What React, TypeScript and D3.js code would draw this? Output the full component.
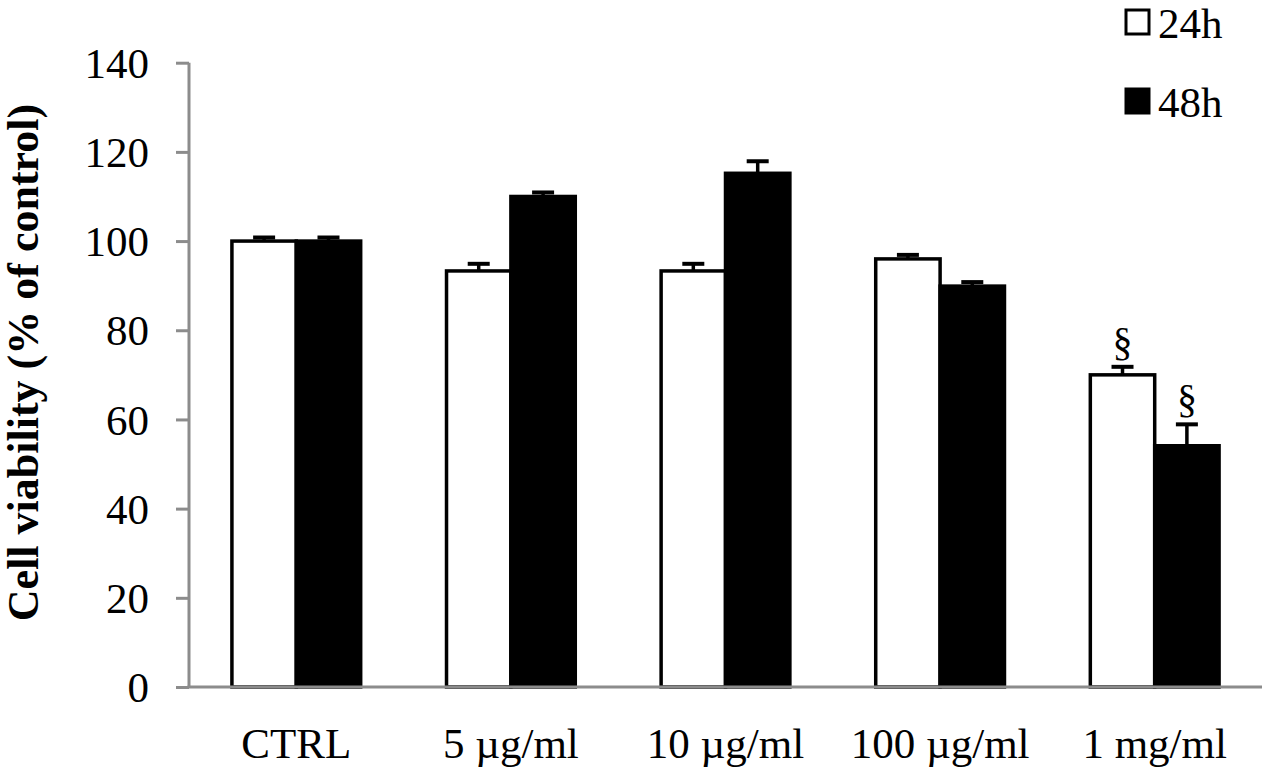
import { useEffect, useRef } from "react";
import * as d3 from "d3";

// Chart data
const categories = ["CTRL", "5 µg/ml", "10 µg/ml", "100 µg/ml", "1 mg/ml"];
const seriesNames = ["24h", "48h"];
const values24h = [100, 93.3, 93.3, 96.0, 70.0];
const errors24h = [0.8, 1.6, 1.6, 0.9, 1.8];
const values48h = [100, 110.0, 115.2, 89.9, 54.1];
const errors48h = [0.8, 0.9, 2.7, 0.9, 4.8];
const marks24h = ["", "", "", "", "§"];
const marks48h = ["", "", "", "", "§"];
const yTicks = [0, 20, 40, 60, 80, 100, 120, 140];
const yTitle = "Cell viability (% of control)";

const WIDTH = 1267;
const HEIGHT = 773;
const FONT = "'Liberation Serif', 'Times New Roman', serif";

interface Bar {
  category: string;
  series: string;
  value: number;
  error: number;
  mark: string;
}

export default function App() {
  const svgRef = useRef<SVGSVGElement>(null);

  useEffect(() => {
    if (!svgRef.current) return;
    const svg = d3.select(svgRef.current);
    svg.selectAll("*").remove();

    const bars: Bar[] = [];
    categories.forEach((c, i) => {
      bars.push({ category: c, series: seriesNames[0], value: values24h[i], error: errors24h[i], mark: marks24h[i] });
      bars.push({ category: c, series: seriesNames[1], value: values48h[i], error: errors48h[i], mark: marks48h[i] });
    });

    const plot = { left: 189, right: 1262, top: 62.7, bottom: 687 };

    const x = d3
      .scaleBand<string>()
      .domain(categories)
      .range([plot.left, plot.right])
      .paddingInner(0.4)
      .paddingOuter(0.2);

    const xSub = d3
      .scaleBand<string>()
      .domain(seriesNames)
      .range([0, x.bandwidth()]);

    const y = d3.scaleLinear().domain([0, 140]).range([plot.bottom, plot.top]);

    const fillFor = (s: string) => (s === seriesNames[0] ? "#ffffff" : "#000000");

    // Y axis
    const yAxis = svg
      .append("g")
      .attr("transform", `translate(${plot.left},0)`)
      .call(d3.axisLeft(y).tickValues(yTicks).tickSize(13).tickPadding(27).tickSizeOuter(0));
    yAxis.select(".domain").remove();
    yAxis.selectAll(".tick line").attr("stroke", "#8c8c8c").attr("stroke-width", 3);
    yAxis
      .selectAll(".tick text")
      .attr("fill", "#000")
      .attr("font-family", FONT)
      .attr("font-size", "43px")
      .attr("dy", "0.34em");

    svg
      .append("line")
      .attr("x1", plot.left)
      .attr("x2", plot.left)
      .attr("y1", y(140))
      .attr("y2", y(0))
      .attr("stroke", "#8c8c8c")
      .attr("stroke-width", 3);

    // Bars
    const g = svg.append("g");
    g.selectAll("rect.bar")
      .data(bars)
      .join("rect")
      .attr("class", "bar")
      .attr("x", (d) => (x(d.category) as number) + (xSub(d.series) as number))
      .attr("y", (d) => y(d.value))
      .attr("width", xSub.bandwidth())
      .attr("height", (d) => y(0) - y(d.value))
      .attr("fill", (d) => fillFor(d.series))
      .attr("stroke", "#000")
      .attr("stroke-width", 3.5)
      .attr("stroke-linejoin", "miter");

    // Error bars (upper only)
    const cx = (d: Bar) => (x(d.category) as number) + (xSub(d.series) as number) + xSub.bandwidth() / 2;
    g.selectAll("line.err")
      .data(bars)
      .join("line")
      .attr("class", "err")
      .attr("x1", cx)
      .attr("x2", cx)
      .attr("y1", (d) => y(d.value))
      .attr("y2", (d) => y(d.value + d.error))
      .attr("stroke", "#000")
      .attr("stroke-width", 3.5);
    g.selectAll("line.cap")
      .data(bars)
      .join("line")
      .attr("class", "cap")
      .attr("x1", (d) => cx(d) - 11)
      .attr("x2", (d) => cx(d) + 11)
      .attr("y1", (d) => y(d.value + d.error))
      .attr("y2", (d) => y(d.value + d.error))
      .attr("stroke", "#000")
      .attr("stroke-width", 4);

    // Significance marks
    g.selectAll("text.mark")
      .data(bars.filter((d) => d.mark))
      .join("text")
      .attr("class", "mark")
      .attr("x", cx)
      .attr("y", (d) => y(d.value + d.error) - 12)
      .attr("text-anchor", "middle")
      .attr("font-family", FONT)
      .attr("font-size", "40px")
      .text((d) => d.mark);

    // X axis
    svg
      .append("line")
      .attr("x1", plot.left - 1.5)
      .attr("x2", plot.right)
      .attr("y1", y(0))
      .attr("y2", y(0))
      .attr("stroke", "#8c8c8c")
      .attr("stroke-width", 3);

    svg
      .append("g")
      .selectAll("text")
      .data(categories)
      .join("text")
      .attr("x", (d) => (x(d) as number) + x.bandwidth() / 2)
      .attr("y", 758)
      .attr("text-anchor", "middle")
      .attr("font-family", FONT)
      .attr("font-size", "43px")
      .text((d) => d);

    // Y axis title
    svg
      .append("text")
      .attr("transform", `translate(38,${(88 + 637) / 2}) rotate(-90)`)
      .attr("text-anchor", "middle")
      .attr("font-family", FONT)
      .attr("font-weight", "bold")
      .attr("font-size", "44px")
      .text(yTitle);

    // Legend
    const legend = svg
      .append("g")
      .selectAll("g")
      .data(seriesNames)
      .join("g")
      .attr("transform", (_, i) => `translate(1126,${10 + i * 79})`);
    legend
      .append("rect")
      .attr("width", 23)
      .attr("height", 24)
      .attr("fill", (d) => fillFor(d))
      .attr("stroke", "#000")
      .attr("stroke-width", 3);
    legend
      .append("text")
      .attr("x", 32)
      .attr("y", 28)
      .attr("font-family", FONT)
      .attr("font-size", "43px")
      .text((d) => d);
  }, []);

  return (
    <svg
      ref={svgRef}
      width={WIDTH}
      height={HEIGHT}
      viewBox={`0 0 ${WIDTH} ${HEIGHT}`}
      style={{ position: "fixed", left: 0, top: 0, background: "#fff" }}
    />
  );
}
